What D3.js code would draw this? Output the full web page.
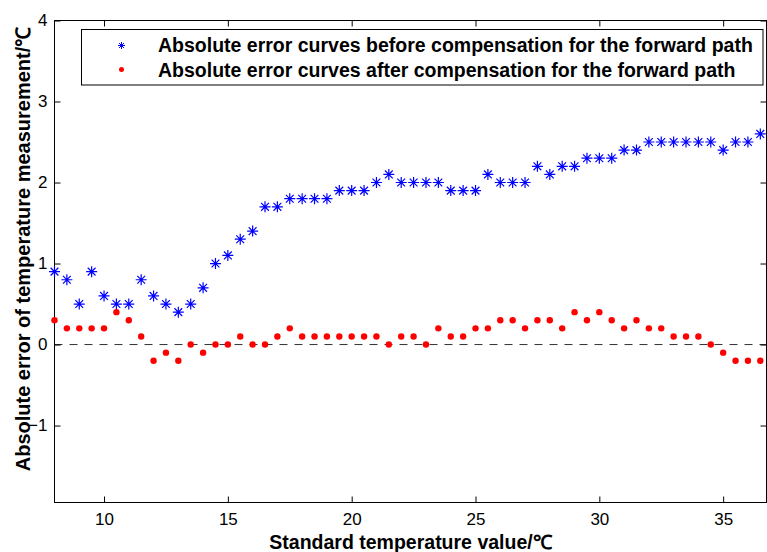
<!DOCTYPE html>
<html>
<head>
<meta charset="utf-8">
<script src="https://cdn.jsdelivr.net/npm/d3@7"></script>
<style>
    body { margin: 0; background: #fff; }
    svg { display: block; font-family: Arial, "Liberation Sans", sans-serif; }
</style>
</head>
<body>
<div id="chart"></div>
<script>
// standard temperature values (x)
const temperatures = [8, 8.5, 9, 9.5, 10, 10.5, 11, 11.5, 12, 12.5, 13, 13.5, 14, 14.5, 15, 15.5, 16, 16.5,
    17, 17.5, 18, 18.5, 19, 19.5, 20, 20.5, 21, 21.5, 22, 22.5, 23, 23.5, 24, 24.5, 25, 25.5, 26, 26.5,
    27, 27.5, 28, 28.5, 29, 29.5, 30, 30.5, 31, 31.5, 32, 32.5, 33, 33.5, 34, 34.5, 35, 35.5, 36, 36.5];
// absolute error before compensation (blue stars)
const errorBefore = [0.9, 0.8, 0.5, 0.9, 0.6, 0.5, 0.5, 0.8, 0.6, 0.5, 0.4, 0.5, 0.7, 1.0, 1.1, 1.3, 1.4, 1.7,
    1.7, 1.8, 1.8, 1.8, 1.8, 1.9, 1.9, 1.9, 2.0, 2.1, 2.0, 2.0, 2.0, 2.0, 1.9, 1.9, 1.9, 2.1, 2.0, 2.0,
    2.0, 2.2, 2.1, 2.2, 2.2, 2.3, 2.3, 2.3, 2.4, 2.4, 2.5, 2.5, 2.5, 2.5, 2.5, 2.5, 2.4, 2.5, 2.5, 2.6];
// absolute error after compensation (red dots)
const errorAfter = [0.3, 0.2, 0.2, 0.2, 0.2, 0.4, 0.3, 0.1, -0.2, -0.1, -0.2, 0, -0.1, 0, 0, 0.1, 0, 0,
    0.1, 0.2, 0.1, 0.1, 0.1, 0.1, 0.1, 0.1, 0.1, 0, 0.1, 0.1, 0, 0.2, 0.1, 0.1, 0.2, 0.2, 0.3, 0.3,
    0.2, 0.3, 0.3, 0.2, 0.4, 0.3, 0.4, 0.3, 0.2, 0.3, 0.2, 0.2, 0.1, 0.1, 0.1, 0, -0.1, -0.2, -0.2, -0.2];
const xTicks = [10, 15, 20, 25, 30, 35];
const yTicks = [-1, 0, 1, 2, 3, 4];
const xDomain = [8, 36.75];
const yDomain = [-1.95, 4];
const legendLabels = [
    "Absolute error curves before compensation for the forward path",
    "Absolute error curves after compensation for the forward path"
];
const xTitle = "Standard temperature value/\u2103";
const yTitle = "Absolute error of temperature measurement/\u2103";

// matlab style '*' marker: plus + cross
const starSymbol = {
    draw(context, size) {
        const r = Math.sqrt(size) / 2;
        const d = r * Math.SQRT1_2;
        context.moveTo(-r, 0); context.lineTo(r, 0);
        context.moveTo(0, -r); context.lineTo(0, r);
        context.moveTo(-d, -d); context.lineTo(d, d);
        context.moveTo(-d, d); context.lineTo(d, -d);
    }
};

const size = {width: 767, height: 552};
const plot = {left: 54.5, right: 766.5, top: 20.5, bottom: 502.5};

const svg = d3.select("#chart").append("svg")
    .attr("width", size.width)
    .attr("height", size.height);

const xScale = d3.scaleLinear().domain(xDomain).range([plot.left, plot.right]);
const yScale = d3.scaleLinear().domain(yDomain).range([plot.bottom, plot.top]);

// zero reference line
svg.append("line")
    .attr("x1", plot.left).attr("x2", plot.right)
    .attr("y1", yScale(0)).attr("y2", yScale(0))
    .attr("stroke", "#333")
    .attr("stroke-width", 1)
    .attr("stroke-dasharray", "8,7");

// axes, ticks pointing inward
const styleAxis = function (g) {
    g.select(".domain").remove();
    g.selectAll(".tick line").attr("stroke", "#000");
    g.selectAll(".tick text").attr("fill", "#000").style("font-size", "17px");
};
svg.append("g")
    .attr("transform", "translate(0," + plot.bottom + ")")
    .call(d3.axisBottom(xScale).tickValues(xTicks).tickFormat(d3.format("d")).tickSize(-6).tickPadding(10.5))
    .call(styleAxis);
svg.append("g")
    .attr("transform", "translate(0," + plot.top + ")")
    .call(d3.axisTop(xScale).tickValues(xTicks).tickSize(-6).tickFormat(""))
    .call(styleAxis);
svg.append("g")
    .attr("transform", "translate(" + plot.left + ",0)")
    .call(d3.axisLeft(yScale).tickValues(yTicks).tickFormat(d3.format("d")).tickSize(-6).tickPadding(7))
    .call(styleAxis);
svg.append("g")
    .attr("transform", "translate(" + plot.right + ",0)")
    .call(d3.axisRight(yScale).tickValues(yTicks).tickSize(-6).tickFormat(""))
    .call(styleAxis);

// axes box
svg.append("rect")
    .attr("x", plot.left).attr("y", plot.top)
    .attr("width", plot.right - plot.left)
    .attr("height", plot.bottom - plot.top)
    .attr("fill", "none")
    .attr("stroke", "#000")
    .attr("stroke-width", 1);

// blue stars
const star = d3.symbol().type(starSymbol).size(121);
svg.append("g").selectAll("path")
    .data(temperatures.map((t, i) => ({x: t, y: errorBefore[i]})))
    .join("path")
    .attr("d", star)
    .attr("transform", d => "translate(" + xScale(d.x) + "," + yScale(d.y) + ")")
    .attr("fill", "none")
    .attr("stroke", "#0000ff")
    .attr("stroke-width", 1.2);

// red dots
svg.append("g").selectAll("circle")
    .data(temperatures.map((t, i) => ({x: t, y: errorAfter[i]})))
    .join("circle")
    .attr("cx", d => xScale(d.x))
    .attr("cy", d => yScale(d.y))
    .attr("r", 3.2)
    .attr("fill", "#ff0000");

// legend
const legend = svg.append("g").attr("transform", "translate(81.5,29.5)");
legend.append("rect")
    .attr("width", 681.5).attr("height", 55.5)
    .attr("fill", "#fff")
    .attr("stroke", "#000")
    .attr("stroke-width", 1);
legend.append("path")
    .attr("d", d3.symbol().type(starSymbol).size(49)())
    .attr("transform", "translate(40,16)")
    .attr("fill", "none")
    .attr("stroke", "#0000ff")
    .attr("stroke-width", 1);
legend.append("circle")
    .attr("cx", 40).attr("cy", 40).attr("r", 2.5)
    .attr("fill", "#ff0000");
legend.selectAll("text")
    .data(legendLabels)
    .join("text")
    .attr("x", 76.5)
    .attr("y", (d, i) => 22.5 + i * 24.5)
    .style("font-size", "19.5px")
    .style("font-weight", "bold")
    .text(d => d);

// axis titles
svg.append("text")
    .attr("x", (plot.left + plot.right) / 2)
    .attr("y", 549)
    .attr("text-anchor", "middle")
    .style("font-size", "19.5px")
    .style("font-weight", "bold")
    .text(xTitle);
svg.append("text")
    .attr("transform", "rotate(-90)")
    .attr("x", -249)
    .attr("y", 30)
    .attr("text-anchor", "middle")
    .style("font-size", "20px")
    .style("font-weight", "bold")
    .text(yTitle);
</script>
</body>
</html>
